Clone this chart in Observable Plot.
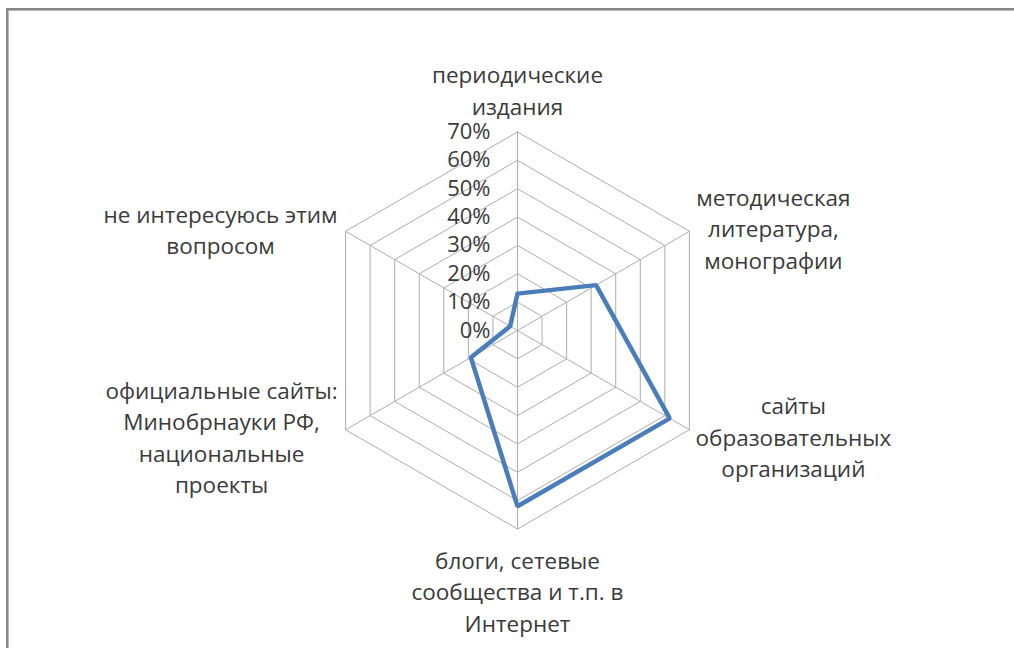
<!DOCTYPE html>
<html>
<head>
<meta charset="utf-8">
<script src="https://cdn.jsdelivr.net/npm/d3@7"></script>
<script src="https://cdn.jsdelivr.net/npm/@observablehq/plot@0.6"></script>
<style>
  html, body { margin: 0; padding: 0; background: #fff; overflow: hidden; width: 1014px; height: 648px; }
  #wrap { position: relative; width: 1014px; height: 648px; }
  #frame { position: absolute; left: 6px; top: 8px; width: 1100px; height: 800px;
           border-left: 2px solid #878787; border-top: 2px solid #878787;
           box-shadow: inset 1px 1px 0 #b8b8b8; box-sizing: border-box; }
  #chart { position: absolute; left: 0; top: 0; }
</style>
</head>
<body>
<div id="wrap">
  <div id="frame"></div>
  <div id="chart"></div>
</div>
<script>
// Categories (clockwise from top)
const categories = [
  "периодические\nиздания",
  "методическая\nлитература,\nмонографии",
  "сайты\nобразовательных\nорганизаций",
  "блоги, сетевые\nсообщества и т.п. в\nИнтернет",
  "официальные сайты:\nМинобрнауки РФ,\nнациональные\nпроекты",
  "не интересуюсь этим\nвопросом"
];
// Series values (%)
const values = [13, 32, 62, 62, 19, 3];
// Radial axis ticks (%)
const ticks = [0, 10, 20, 30, 40, 50, 60, 70];
const tickLabels = ["0%", "10%", "20%", "30%", "40%", "50%", "60%", "70%"];

// label placement offsets (pixels) per category
const labelDx = [0, 84, 104, 0, -124, -125];
const labelDy = [-43, -4, 6, 61, 6, -3];

const W = 1014, H = 648;
const cx = 517, cy = 330;
const rMax = 70;
const k = 198.5 / rMax; // px per percent

const n = categories.length;
const ang = i => (i * 2 * Math.PI) / n;
const px = (r, i) => r * Math.sin(ang(i));
const py = (r, i) => r * Math.cos(ang(i));

const rings = ticks.flatMap(t =>
  d3.range(n + 1).map(j => ({t, x: px(t, j % n), y: py(t, j % n)})));
const spokes = d3.range(n).map(i => ({x1: 0, y1: 0, x2: px(rMax, i), y2: py(rMax, i)}));
const series = d3.range(n + 1).map(j => ({x: px(values[j % n], j % n), y: py(values[j % n], j % n)}));
const labels = categories.map((c, i) => ({text: c, x: px(rMax, i), y: py(rMax, i), dx: labelDx[i], dy: labelDy[i]}));
const tickData = ticks.map((t, i) => ({x: 0, y: t, text: tickLabels[i]}));

const font = "'Open Sans', 'Noto Sans', sans-serif";
const textColor = "#3a3a3a";

const plot = Plot.plot({
  width: W,
  height: H,
  margin: 0,
  x: {domain: [-cx / k, (W - cx) / k], axis: null},
  y: {domain: [-(H - cy) / k, cy / k], axis: null},
  style: {fontFamily: font, background: "transparent", overflow: "visible"},
  marks: [
    Plot.line(rings, {x: "x", y: "y", z: "t", stroke: "#adadad", strokeWidth: 1}),
    Plot.link(spokes, {x1: "x1", y1: "y1", x2: "x2", y2: "y2", stroke: "#adadad", strokeWidth: 1}),
    Plot.line(series, {x: "x", y: "y", stroke: "#4a7ebb", strokeWidth: 4.5, strokeLinejoin: "miter", curve: "linear"}),
    Plot.text(tickData, {x: "x", y: "y", text: "text", textAnchor: "end", dx: -27, fontSize: 22, fill: textColor, fontFamily: font}),
    ...labels.map(l => Plot.text([l], {x: "x", y: "y", text: "text", dx: l.dx, dy: l.dy, textAnchor: "middle", lineAnchor: "middle", lineHeight: 1.4, fontSize: 22.5, fill: textColor, fontFamily: font}))
  ]
});
document.getElementById("chart").appendChild(plot);
</script>
</body>
</html>
